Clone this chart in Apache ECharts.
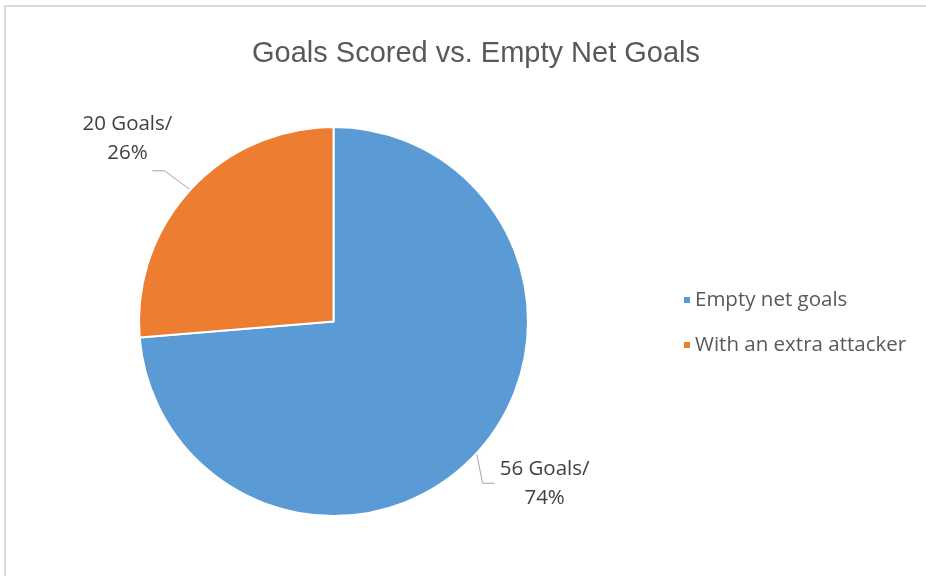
<!DOCTYPE html>
<html>
<head>
<meta charset="utf-8">
<script src="https://cdn.jsdelivr.net/npm/echarts@6/dist/echarts.min.js"></script>
<style>html,body{margin:0;padding:0;background:#fff}#c{width:926px;height:576px}</style>
</head>
<body>
<div id="c"></div>
<script>
const categories = ['Empty net goals', 'With an extra attacker'];
const goals = [56, 20];
const colors = ['#5B9BD5', '#ED7D31'];
const titleText = 'Goals Scored vs. Empty Net Goals';

const chart = echarts.init(document.getElementById('c'));
chart.setOption({
  backgroundColor: '#fff',
  animation: false,
  title: {
    text: titleText,
    left: 471, top: 34, textAlign: 'center',
    textStyle: { fontFamily: 'Liberation Sans', fontSize: 29, fontWeight: 'normal', color: '#595959' }
  },
  graphic: [{
    type: 'rect', shape: { x: 5, y: 6, width: 1200, height: 1200 },
    style: { fill: 'none', stroke: '#d9d9d9', lineWidth: 2 }, silent: true
  }],
  legend: {
    orient: 'vertical', left: 677, top: 284,
    itemWidth: 8, itemHeight: 8, itemGap: 23, icon: 'rect',
    textStyle: { fontFamily: 'Open Sans', fontSize: 20.5, color: '#595959', lineHeight: 22, padding: [0, 0, 0, -1] },
    data: categories
  },
  series: [{
    type: 'pie',
    center: [333.5, 321.5], radius: [0, 194.5],
    startAngle: 90, clockwise: true,
    percentPrecision: 0,
    itemStyle: { borderColor: '#fff', borderWidth: 2 },
    label: {
      show: true, position: 'outside',
      formatter: '{c} Goals/\n{d}%',
      fontFamily: 'Open Sans', fontSize: 20.5, color: '#404040', lineHeight: 29, align: 'center'
    },
    labelLine: { show: true, lineStyle: { color: '#a6a6a6', width: 1 } },
    labelLayout: function (p) {
      const p0 = p.labelLinePoints ? p.labelLinePoints[0] : [p.rect.x, p.rect.y];
      if (p.dataIndex === 1) {
        return {
          x: p0[0] - 63, y: p0[1] - 51, align: 'center', verticalAlign: 'middle',
          labelLinePoints: [p0, [p0[0] - 26, p0[1] - 19], [p0[0] - 38, p0[1] - 19]]
        };
      }
      return {
        x: p0[0] + 68, y: p0[1] + 30, align: 'center', verticalAlign: 'middle',
        labelLinePoints: [p0, [p0[0] + 6, p0[1] + 30], [p0[0] + 18, p0[1] + 30]]
      };
    },
    data: categories.map((n, i) => ({ name: n, value: goals[i], itemStyle: { color: colors[i] } }))
  }]
});
</script>
</body>
</html>
